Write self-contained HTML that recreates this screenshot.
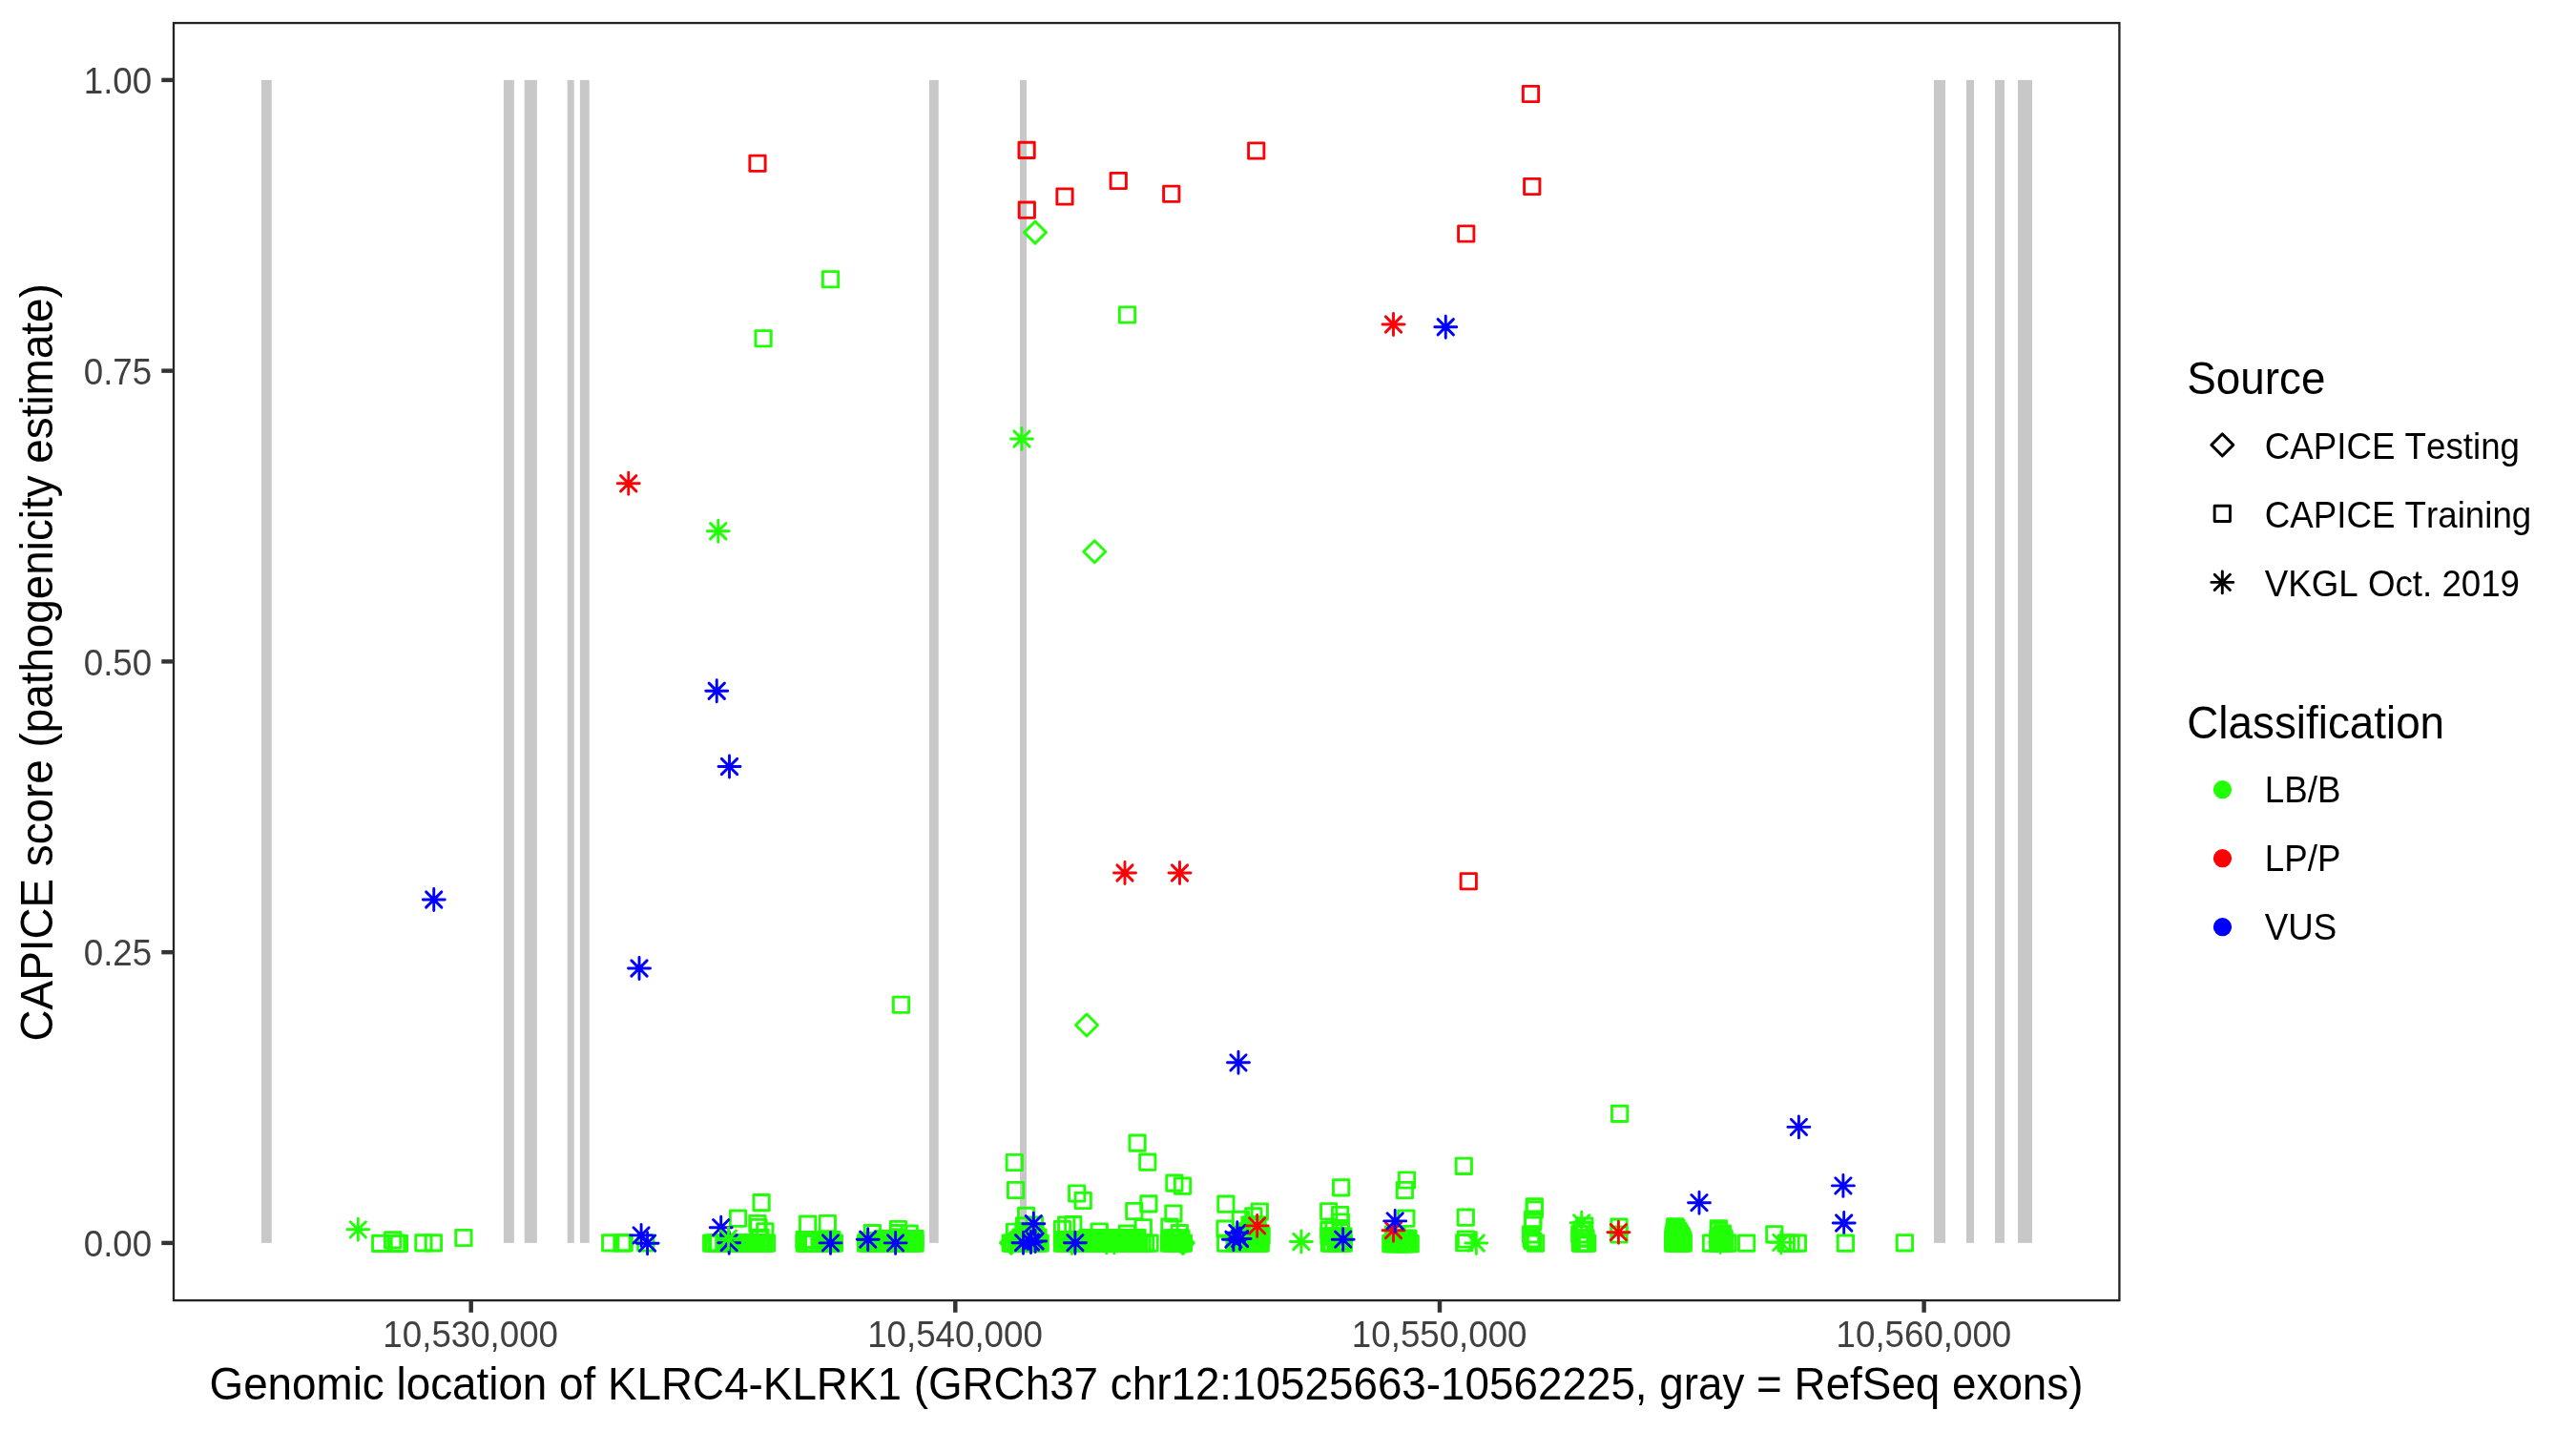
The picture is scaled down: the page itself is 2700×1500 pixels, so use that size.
<!DOCTYPE html>
<html><head><meta charset="utf-8"><title>CAPICE KLRC4-KLRK1</title>
<style>
html,body{margin:0;padding:0;background:#fff;}
body{width:2700px;height:1500px;overflow:hidden;}
svg{display:block;will-change:transform;}
text{font-family:"Liberation Sans",sans-serif;font-kerning:none;}
.tk{font-size:38.3px;fill:#404040;}
.lt{font-size:38.3px;fill:#000;}
.ti{font-size:47.8px;fill:#000;}
.p{fill:none;stroke-width:2.9;stroke-linecap:round;stroke-linejoin:round;}
</style></head><body>
<svg width="2700" height="1500" viewBox="0 0 2700 1500">
<rect x="0" y="0" width="2700" height="1500" fill="#fff"/>
<g fill="#C8C8C8">
<rect x="274" y="83.9" width="10.75" height="1219"/>
<rect x="527.9" y="83.9" width="11" height="1219"/>
<rect x="549.7" y="83.9" width="13.2" height="1219"/>
<rect x="594.7" y="83.9" width="7" height="1219"/>
<rect x="607.9" y="83.9" width="9.8" height="1219"/>
<rect x="974" y="83.9" width="9.75" height="1219"/>
<rect x="1069" y="83.9" width="7" height="1219"/>
<rect x="2027" y="83.9" width="12" height="1219"/>
<rect x="2061" y="83.9" width="8" height="1219"/>
<rect x="2091" y="83.9" width="10" height="1219"/>
<rect x="2115" y="83.9" width="15" height="1219"/>
</g>
<g class="p" stroke="#FB0207">
<rect x="785.85" y="163.1" width="16.3" height="16.3"/>
</g>
<g class="p" stroke="#21FF06">
<rect x="791.95" y="346.6" width="16.3" height="16.3"/>
</g>
<g class="p" stroke="#FB0207">
<rect x="1067.95" y="149.25" width="16.3" height="16.3"/>
<rect x="1308.6" y="149.85" width="16.3" height="16.3"/>
<rect x="1164.1" y="181.35" width="16.3" height="16.3"/>
<rect x="1107.85" y="197.85" width="16.3" height="16.3"/>
<rect x="1219.6" y="195.1" width="16.3" height="16.3"/>
<rect x="1068.15" y="212.05" width="16.3" height="16.3"/>
</g>
<g class="p" stroke="#21FF06">
<path d="M1073.5 243.6L1085 232.1L1096.5 243.6L1085 255.1Z"/>
<rect x="862.35" y="284.6" width="16.3" height="16.3"/>
<rect x="1173.35" y="321.85" width="16.3" height="16.3"/>
</g>
<g class="p" stroke="#FB0207">
<path d="M1449 340H1472M1460.5 328.5V351.5M1452.37 331.87L1468.63 348.13M1452.37 348.13L1468.63 331.87"/>
<rect x="1596.35" y="90.35" width="16.3" height="16.3"/>
<rect x="1597.6" y="187.35" width="16.3" height="16.3"/>
<rect x="1528.6" y="236.85" width="16.3" height="16.3"/>
</g>
<g class="p" stroke="#0000FF">
<path d="M1503.75 342.75H1526.75M1515.25 331.25V354.25M1507.12 334.62L1523.38 350.88M1507.12 350.88L1523.38 334.62"/>
</g>
<g class="p" stroke="#FB0207">
<path d="M647.25 506.75H670.25M658.75 495.25V518.25M650.62 498.62L666.88 514.88M650.62 514.88L666.88 498.62"/>
</g>
<g class="p" stroke="#21FF06">
<path d="M741.25 556.75H764.25M752.75 545.25V568.25M744.62 548.62L760.88 564.88M744.62 564.88L760.88 548.62"/>
</g>
<g class="p" stroke="#0000FF">
<path d="M739.75 724.25H762.75M751.25 712.75V735.75M743.12 716.12L759.38 732.38M743.12 732.38L759.38 716.12"/>
</g>
<g class="p" stroke="#21FF06">
<path d="M1059.5 460H1082.5M1071 448.5V471.5M1062.87 451.87L1079.13 468.13M1062.87 468.13L1079.13 451.87"/>
<path d="M1135.75 578.25L1147.25 566.75L1158.75 578.25L1147.25 589.75Z"/>
</g>
<g class="p" stroke="#0000FF">
<path d="M753 803.5H776M764.5 792V815M756.37 795.37L772.63 811.63M756.37 811.63L772.63 795.37"/>
<path d="M443.25 943H466.25M454.75 931.5V954.5M446.62 934.87L462.88 951.13M446.62 951.13L462.88 934.87"/>
<path d="M658.5 1015H681.5M670 1003.5V1026.5M661.87 1006.87L678.13 1023.13M661.87 1023.13L678.13 1006.87"/>
</g>
<g class="p" stroke="#FB0207">
<path d="M1167.5 915H1190.5M1179 903.5V926.5M1170.87 906.87L1187.13 923.13M1170.87 923.13L1187.13 906.87"/>
<path d="M1225 915H1248M1236.5 903.5V926.5M1228.37 906.87L1244.63 923.13M1228.37 923.13L1244.63 906.87"/>
</g>
<g class="p" stroke="#21FF06">
<rect x="936.35" y="1045.1" width="16.3" height="16.3"/>
<path d="M1127.5 1074.5L1139 1063L1150.5 1074.5L1139 1086Z"/>
</g>
<g class="p" stroke="#FB0207">
<rect x="1531.1" y="915.6" width="16.3" height="16.3"/>
</g>
<g class="p" stroke="#0000FF">
<path d="M1286.5 1113.8H1309.5M1298 1102.3V1125.3M1289.87 1105.67L1306.13 1121.93M1289.87 1121.93L1306.13 1105.67"/>
</g>
<g class="p" stroke="#21FF06">
<rect x="1689.45" y="1159.25" width="16.3" height="16.3"/>
</g>
<g class="p" stroke="#0000FF">
<path d="M1873.9 1181.4H1896.9M1885.4 1169.9V1192.9M1877.27 1173.27L1893.53 1189.53M1877.27 1189.53L1893.53 1173.27"/>
<path d="M1920.4 1242.9H1943.4M1931.9 1231.4V1254.4M1923.77 1234.77L1940.03 1251.03M1923.77 1251.03L1940.03 1234.77"/>
<path d="M1769.5 1260.7H1792.5M1781 1249.2V1272.2M1772.87 1252.57L1789.13 1268.83M1772.87 1268.83L1789.13 1252.57"/>
<path d="M1921.2 1282H1944.2M1932.7 1270.5V1293.5M1924.57 1273.87L1940.83 1290.13M1924.57 1290.13L1940.83 1273.87"/>
</g>
<g class="p" stroke="#21FF06">
<path d="M363.8 1288.8H386.8M375.3 1277.3V1300.3M367.17 1280.67L383.43 1296.93M367.17 1296.93L383.43 1280.67"/>
<rect x="390.55" y="1295.25" width="16.3" height="16.3"/>
<rect x="403.5" y="1291.65" width="16.3" height="16.3"/>
<rect x="407.45" y="1295.25" width="16.3" height="16.3"/>
<rect x="410.25" y="1295.25" width="16.3" height="16.3"/>
<rect x="435.75" y="1294.75" width="16.3" height="16.3"/>
<rect x="446.25" y="1294.75" width="16.3" height="16.3"/>
<rect x="477.75" y="1289.35" width="16.3" height="16.3"/>
<rect x="631.55" y="1294.75" width="16.3" height="16.3"/>
<rect x="643.85" y="1294.75" width="16.3" height="16.3"/>
<rect x="646.05" y="1294.75" width="16.3" height="16.3"/>
<rect x="668.65" y="1294.75" width="16.3" height="16.3"/>
<rect x="737.55" y="1294.95" width="16.3" height="16.3"/>
<rect x="740.35" y="1294.95" width="16.3" height="16.3"/>
<rect x="743.15" y="1294.95" width="16.3" height="16.3"/>
<rect x="744.85" y="1294.95" width="16.3" height="16.3"/>
<rect x="750.65" y="1294.95" width="16.3" height="16.3"/>
<rect x="753.28" y="1294.95" width="16.3" height="16.3"/>
<rect x="755.91" y="1294.95" width="16.3" height="16.3"/>
<rect x="758.54" y="1294.95" width="16.3" height="16.3"/>
<rect x="761.17" y="1294.95" width="16.3" height="16.3"/>
<rect x="763.8" y="1294.95" width="16.3" height="16.3"/>
<rect x="766.43" y="1294.95" width="16.3" height="16.3"/>
<rect x="769.06" y="1294.95" width="16.3" height="16.3"/>
<rect x="771.69" y="1294.95" width="16.3" height="16.3"/>
<rect x="774.31" y="1294.95" width="16.3" height="16.3"/>
<rect x="776.94" y="1294.95" width="16.3" height="16.3"/>
<rect x="779.57" y="1294.95" width="16.3" height="16.3"/>
<rect x="782.2" y="1294.95" width="16.3" height="16.3"/>
<rect x="784.83" y="1294.95" width="16.3" height="16.3"/>
<rect x="787.46" y="1294.95" width="16.3" height="16.3"/>
<rect x="790.09" y="1294.95" width="16.3" height="16.3"/>
<rect x="792.72" y="1294.95" width="16.3" height="16.3"/>
<rect x="795.35" y="1294.95" width="16.3" height="16.3"/>
<rect x="765.35" y="1269.05" width="16.3" height="16.3"/>
<rect x="789.95" y="1252.45" width="16.3" height="16.3"/>
<rect x="785.75" y="1274.35" width="16.3" height="16.3"/>
<rect x="793.65" y="1282.75" width="16.3" height="16.3"/>
<rect x="788.85" y="1289.15" width="16.3" height="16.3"/>
<rect x="786.85" y="1278.35" width="16.3" height="16.3"/>
<rect x="834.95" y="1294.95" width="16.3" height="16.3"/>
<rect x="837.35" y="1294.95" width="16.3" height="16.3"/>
<rect x="839.75" y="1294.95" width="16.3" height="16.3"/>
<rect x="842.15" y="1294.95" width="16.3" height="16.3"/>
<rect x="844.55" y="1294.95" width="16.3" height="16.3"/>
<rect x="834.95" y="1291.35" width="16.3" height="16.3"/>
<rect x="837.35" y="1291.35" width="16.3" height="16.3"/>
<rect x="839.75" y="1291.35" width="16.3" height="16.3"/>
<rect x="842.15" y="1291.35" width="16.3" height="16.3"/>
<rect x="844.55" y="1291.35" width="16.3" height="16.3"/>
<rect x="851.25" y="1294.95" width="16.3" height="16.3"/>
<rect x="853.75" y="1294.95" width="16.3" height="16.3"/>
<rect x="856.25" y="1294.95" width="16.3" height="16.3"/>
<rect x="858.75" y="1294.95" width="16.3" height="16.3"/>
<rect x="861.25" y="1294.95" width="16.3" height="16.3"/>
<rect x="863.75" y="1294.95" width="16.3" height="16.3"/>
<rect x="866.25" y="1294.95" width="16.3" height="16.3"/>
<rect x="851.25" y="1291.35" width="16.3" height="16.3"/>
<rect x="853.77" y="1291.35" width="16.3" height="16.3"/>
<rect x="856.29" y="1291.35" width="16.3" height="16.3"/>
<rect x="858.81" y="1291.35" width="16.3" height="16.3"/>
<rect x="861.33" y="1291.35" width="16.3" height="16.3"/>
<rect x="863.85" y="1291.35" width="16.3" height="16.3"/>
<rect x="838.45" y="1275.05" width="16.3" height="16.3"/>
<rect x="859.15" y="1274.35" width="16.3" height="16.3"/>
<rect x="899.25" y="1294.95" width="16.3" height="16.3"/>
<rect x="901.97" y="1294.95" width="16.3" height="16.3"/>
<rect x="904.69" y="1294.95" width="16.3" height="16.3"/>
<rect x="907.41" y="1294.95" width="16.3" height="16.3"/>
<rect x="910.13" y="1294.95" width="16.3" height="16.3"/>
<rect x="912.86" y="1294.95" width="16.3" height="16.3"/>
<rect x="915.58" y="1294.95" width="16.3" height="16.3"/>
<rect x="918.3" y="1294.95" width="16.3" height="16.3"/>
<rect x="921.02" y="1294.95" width="16.3" height="16.3"/>
<rect x="923.74" y="1294.95" width="16.3" height="16.3"/>
<rect x="926.46" y="1294.95" width="16.3" height="16.3"/>
<rect x="929.18" y="1294.95" width="16.3" height="16.3"/>
<rect x="931.9" y="1294.95" width="16.3" height="16.3"/>
<rect x="934.62" y="1294.95" width="16.3" height="16.3"/>
<rect x="937.34" y="1294.95" width="16.3" height="16.3"/>
<rect x="940.07" y="1294.95" width="16.3" height="16.3"/>
<rect x="942.79" y="1294.95" width="16.3" height="16.3"/>
<rect x="945.51" y="1294.95" width="16.3" height="16.3"/>
<rect x="948.23" y="1294.95" width="16.3" height="16.3"/>
<rect x="950.95" y="1294.95" width="16.3" height="16.3"/>
<rect x="916.85" y="1290.55" width="16.3" height="16.3"/>
<rect x="919.47" y="1290.55" width="16.3" height="16.3"/>
<rect x="922.1" y="1290.55" width="16.3" height="16.3"/>
<rect x="924.72" y="1290.55" width="16.3" height="16.3"/>
<rect x="927.34" y="1290.55" width="16.3" height="16.3"/>
<rect x="929.97" y="1290.55" width="16.3" height="16.3"/>
<rect x="932.59" y="1290.55" width="16.3" height="16.3"/>
<rect x="935.21" y="1290.55" width="16.3" height="16.3"/>
<rect x="937.83" y="1290.55" width="16.3" height="16.3"/>
<rect x="940.46" y="1290.55" width="16.3" height="16.3"/>
<rect x="943.08" y="1290.55" width="16.3" height="16.3"/>
<rect x="945.7" y="1290.55" width="16.3" height="16.3"/>
<rect x="948.33" y="1290.55" width="16.3" height="16.3"/>
<rect x="950.95" y="1290.55" width="16.3" height="16.3"/>
<rect x="906.25" y="1284.55" width="16.3" height="16.3"/>
<rect x="933.35" y="1280.35" width="16.3" height="16.3"/>
<rect x="933.35" y="1284.55" width="16.3" height="16.3"/>
<rect x="933.35" y="1288.75" width="16.3" height="16.3"/>
<rect x="945.05" y="1284.95" width="16.3" height="16.3"/>
<rect x="900.85" y="1292.35" width="16.3" height="16.3"/>
<rect x="903.6" y="1292.35" width="16.3" height="16.3"/>
<rect x="906.35" y="1292.35" width="16.3" height="16.3"/>
<rect x="909.1" y="1292.35" width="16.3" height="16.3"/>
<rect x="911.85" y="1292.35" width="16.3" height="16.3"/>
<rect x="1055.15" y="1210.35" width="16.3" height="16.3"/>
<rect x="1056.45" y="1239.35" width="16.3" height="16.3"/>
<rect x="1067.45" y="1266.25" width="16.3" height="16.3"/>
<rect x="1065.35" y="1276.75" width="16.3" height="16.3"/>
<rect x="1076.25" y="1276.05" width="16.3" height="16.3"/>
<rect x="1055.35" y="1283.15" width="16.3" height="16.3"/>
<path d="M1048.4 1302.7L1059.9 1291.2L1071.4 1302.7L1059.9 1314.2Z"/>
<rect x="1051.05" y="1294.95" width="16.3" height="16.3"/>
<rect x="1053.87" y="1294.95" width="16.3" height="16.3"/>
<rect x="1056.69" y="1294.95" width="16.3" height="16.3"/>
<rect x="1059.5" y="1294.95" width="16.3" height="16.3"/>
<rect x="1062.32" y="1294.95" width="16.3" height="16.3"/>
<rect x="1065.14" y="1294.95" width="16.3" height="16.3"/>
<rect x="1067.96" y="1294.95" width="16.3" height="16.3"/>
<rect x="1070.78" y="1294.95" width="16.3" height="16.3"/>
<rect x="1073.6" y="1294.95" width="16.3" height="16.3"/>
<rect x="1076.41" y="1294.95" width="16.3" height="16.3"/>
<rect x="1079.23" y="1294.95" width="16.3" height="16.3"/>
<rect x="1082.05" y="1294.95" width="16.3" height="16.3"/>
<rect x="1061.85" y="1288.85" width="16.3" height="16.3"/>
<rect x="1064.42" y="1288.85" width="16.3" height="16.3"/>
<rect x="1066.99" y="1288.85" width="16.3" height="16.3"/>
<rect x="1069.56" y="1288.85" width="16.3" height="16.3"/>
<rect x="1072.14" y="1288.85" width="16.3" height="16.3"/>
<rect x="1074.71" y="1288.85" width="16.3" height="16.3"/>
<rect x="1077.28" y="1288.85" width="16.3" height="16.3"/>
<rect x="1079.85" y="1288.85" width="16.3" height="16.3"/>
<rect x="1064.85" y="1282.85" width="16.3" height="16.3"/>
<rect x="1067.85" y="1282.85" width="16.3" height="16.3"/>
<rect x="1070.85" y="1282.85" width="16.3" height="16.3"/>
<rect x="1073.85" y="1282.85" width="16.3" height="16.3"/>
<rect x="1076.85" y="1282.85" width="16.3" height="16.3"/>
<rect x="1105.35" y="1280.35" width="16.3" height="16.3"/>
<rect x="1109.55" y="1275.85" width="16.3" height="16.3"/>
<rect x="1116.65" y="1275.55" width="16.3" height="16.3"/>
<rect x="1120.55" y="1242.85" width="16.3" height="16.3"/>
<rect x="1127.05" y="1250.35" width="16.3" height="16.3"/>
<rect x="1144.15" y="1282.85" width="16.3" height="16.3"/>
<rect x="1180.65" y="1261.35" width="16.3" height="16.3"/>
<rect x="1195.75" y="1253.75" width="16.3" height="16.3"/>
<rect x="1190.15" y="1278.65" width="16.3" height="16.3"/>
<rect x="1173.15" y="1284.95" width="16.3" height="16.3"/>
<rect x="1183.95" y="1189.95" width="16.3" height="16.3"/>
<rect x="1194.65" y="1210.05" width="16.3" height="16.3"/>
<rect x="1105.35" y="1294.95" width="16.3" height="16.3"/>
<rect x="1108.06" y="1294.95" width="16.3" height="16.3"/>
<rect x="1110.76" y="1294.95" width="16.3" height="16.3"/>
<rect x="1113.47" y="1294.95" width="16.3" height="16.3"/>
<rect x="1116.18" y="1294.95" width="16.3" height="16.3"/>
<rect x="1118.88" y="1294.95" width="16.3" height="16.3"/>
<rect x="1121.59" y="1294.95" width="16.3" height="16.3"/>
<rect x="1124.3" y="1294.95" width="16.3" height="16.3"/>
<rect x="1127.01" y="1294.95" width="16.3" height="16.3"/>
<rect x="1129.71" y="1294.95" width="16.3" height="16.3"/>
<rect x="1132.42" y="1294.95" width="16.3" height="16.3"/>
<rect x="1135.13" y="1294.95" width="16.3" height="16.3"/>
<rect x="1137.83" y="1294.95" width="16.3" height="16.3"/>
<rect x="1140.54" y="1294.95" width="16.3" height="16.3"/>
<rect x="1143.25" y="1294.95" width="16.3" height="16.3"/>
<rect x="1145.95" y="1294.95" width="16.3" height="16.3"/>
<rect x="1148.66" y="1294.95" width="16.3" height="16.3"/>
<rect x="1151.37" y="1294.95" width="16.3" height="16.3"/>
<rect x="1154.07" y="1294.95" width="16.3" height="16.3"/>
<rect x="1156.78" y="1294.95" width="16.3" height="16.3"/>
<rect x="1159.49" y="1294.95" width="16.3" height="16.3"/>
<rect x="1162.19" y="1294.95" width="16.3" height="16.3"/>
<rect x="1164.9" y="1294.95" width="16.3" height="16.3"/>
<rect x="1167.61" y="1294.95" width="16.3" height="16.3"/>
<rect x="1170.32" y="1294.95" width="16.3" height="16.3"/>
<rect x="1173.02" y="1294.95" width="16.3" height="16.3"/>
<rect x="1175.73" y="1294.95" width="16.3" height="16.3"/>
<rect x="1178.44" y="1294.95" width="16.3" height="16.3"/>
<rect x="1181.14" y="1294.95" width="16.3" height="16.3"/>
<rect x="1183.85" y="1294.95" width="16.3" height="16.3"/>
<rect x="1131.85" y="1289.35" width="16.3" height="16.3"/>
<rect x="1134.59" y="1289.35" width="16.3" height="16.3"/>
<rect x="1137.32" y="1289.35" width="16.3" height="16.3"/>
<rect x="1140.06" y="1289.35" width="16.3" height="16.3"/>
<rect x="1142.8" y="1289.35" width="16.3" height="16.3"/>
<rect x="1145.53" y="1289.35" width="16.3" height="16.3"/>
<rect x="1148.27" y="1289.35" width="16.3" height="16.3"/>
<rect x="1151.01" y="1289.35" width="16.3" height="16.3"/>
<rect x="1153.74" y="1289.35" width="16.3" height="16.3"/>
<rect x="1156.48" y="1289.35" width="16.3" height="16.3"/>
<rect x="1159.22" y="1289.35" width="16.3" height="16.3"/>
<rect x="1161.96" y="1289.35" width="16.3" height="16.3"/>
<rect x="1164.69" y="1289.35" width="16.3" height="16.3"/>
<rect x="1167.43" y="1289.35" width="16.3" height="16.3"/>
<rect x="1170.17" y="1289.35" width="16.3" height="16.3"/>
<rect x="1172.9" y="1289.35" width="16.3" height="16.3"/>
<rect x="1175.64" y="1289.35" width="16.3" height="16.3"/>
<rect x="1178.38" y="1289.35" width="16.3" height="16.3"/>
<rect x="1181.11" y="1289.35" width="16.3" height="16.3"/>
<rect x="1183.85" y="1289.35" width="16.3" height="16.3"/>
<rect x="1106.85" y="1291.35" width="16.3" height="16.3"/>
<rect x="1109.63" y="1291.35" width="16.3" height="16.3"/>
<rect x="1112.41" y="1291.35" width="16.3" height="16.3"/>
<rect x="1115.18" y="1291.35" width="16.3" height="16.3"/>
<rect x="1117.96" y="1291.35" width="16.3" height="16.3"/>
<rect x="1120.74" y="1291.35" width="16.3" height="16.3"/>
<rect x="1123.52" y="1291.35" width="16.3" height="16.3"/>
<rect x="1126.29" y="1291.35" width="16.3" height="16.3"/>
<rect x="1129.07" y="1291.35" width="16.3" height="16.3"/>
<rect x="1131.85" y="1291.35" width="16.3" height="16.3"/>
<rect x="1185.85" y="1294.95" width="16.3" height="16.3"/>
<rect x="1188.85" y="1294.95" width="16.3" height="16.3"/>
<rect x="1192.35" y="1294.95" width="16.3" height="16.3"/>
<rect x="1196.95" y="1294.95" width="16.3" height="16.3"/>
<rect x="1141.85" y="1292.15" width="16.3" height="16.3"/>
<rect x="1144.56" y="1292.15" width="16.3" height="16.3"/>
<rect x="1147.28" y="1292.15" width="16.3" height="16.3"/>
<rect x="1149.99" y="1292.15" width="16.3" height="16.3"/>
<rect x="1152.71" y="1292.15" width="16.3" height="16.3"/>
<rect x="1155.42" y="1292.15" width="16.3" height="16.3"/>
<rect x="1158.14" y="1292.15" width="16.3" height="16.3"/>
<rect x="1160.85" y="1292.15" width="16.3" height="16.3"/>
<rect x="1163.56" y="1292.15" width="16.3" height="16.3"/>
<rect x="1166.28" y="1292.15" width="16.3" height="16.3"/>
<rect x="1168.99" y="1292.15" width="16.3" height="16.3"/>
<rect x="1171.71" y="1292.15" width="16.3" height="16.3"/>
<rect x="1174.42" y="1292.15" width="16.3" height="16.3"/>
<rect x="1177.14" y="1292.15" width="16.3" height="16.3"/>
<rect x="1179.85" y="1292.15" width="16.3" height="16.3"/>
<path d="M1112 1303H1135M1123.5 1291.5V1314.5M1115.37 1294.87L1131.63 1311.13M1115.37 1311.13L1131.63 1294.87"/>
<path d="M1148.3 1302.4H1171.3M1159.8 1290.9V1313.9M1151.67 1294.27L1167.93 1310.53M1151.67 1310.53L1167.93 1294.27"/>
<path d="M1156.4 1302.4H1179.4M1167.9 1290.9V1313.9M1159.77 1294.27L1176.03 1310.53M1159.77 1310.53L1176.03 1294.27"/>
<rect x="1222.75" y="1231.95" width="16.3" height="16.3"/>
<rect x="1231.35" y="1235.05" width="16.3" height="16.3"/>
<rect x="1221.75" y="1263.85" width="16.3" height="16.3"/>
<rect x="1217.75" y="1277.95" width="16.3" height="16.3"/>
<rect x="1228.15" y="1284.55" width="16.3" height="16.3"/>
<rect x="1217.45" y="1294.95" width="16.3" height="16.3"/>
<rect x="1219.92" y="1294.95" width="16.3" height="16.3"/>
<rect x="1222.38" y="1294.95" width="16.3" height="16.3"/>
<rect x="1224.85" y="1294.95" width="16.3" height="16.3"/>
<rect x="1227.32" y="1294.95" width="16.3" height="16.3"/>
<rect x="1229.78" y="1294.95" width="16.3" height="16.3"/>
<rect x="1232.25" y="1294.95" width="16.3" height="16.3"/>
<rect x="1217.85" y="1289.85" width="16.3" height="16.3"/>
<rect x="1220.25" y="1289.85" width="16.3" height="16.3"/>
<rect x="1222.65" y="1289.85" width="16.3" height="16.3"/>
<rect x="1225.05" y="1289.85" width="16.3" height="16.3"/>
<rect x="1227.45" y="1289.85" width="16.3" height="16.3"/>
<rect x="1229.85" y="1289.85" width="16.3" height="16.3"/>
<path d="M1228.3 1302.9L1239.8 1291.4L1251.3 1302.9L1239.8 1314.4Z"/>
<rect x="1276.75" y="1254.05" width="16.3" height="16.3"/>
<rect x="1312.15" y="1261.85" width="16.3" height="16.3"/>
<rect x="1305.65" y="1266.75" width="16.3" height="16.3"/>
<rect x="1292.25" y="1270.25" width="16.3" height="16.3"/>
<rect x="1275.85" y="1280.05" width="16.3" height="16.3"/>
<rect x="1313.95" y="1287.05" width="16.3" height="16.3"/>
<rect x="1276.55" y="1294.95" width="16.3" height="16.3"/>
<rect x="1285.95" y="1294.95" width="16.3" height="16.3"/>
<rect x="1288.66" y="1294.95" width="16.3" height="16.3"/>
<rect x="1291.37" y="1294.95" width="16.3" height="16.3"/>
<rect x="1294.08" y="1294.95" width="16.3" height="16.3"/>
<rect x="1296.79" y="1294.95" width="16.3" height="16.3"/>
<rect x="1299.5" y="1294.95" width="16.3" height="16.3"/>
<rect x="1302.21" y="1294.95" width="16.3" height="16.3"/>
<rect x="1304.92" y="1294.95" width="16.3" height="16.3"/>
<rect x="1307.63" y="1294.95" width="16.3" height="16.3"/>
<rect x="1310.34" y="1294.95" width="16.3" height="16.3"/>
<rect x="1313.05" y="1294.95" width="16.3" height="16.3"/>
<rect x="1290.85" y="1289.85" width="16.3" height="16.3"/>
<rect x="1293.6" y="1289.85" width="16.3" height="16.3"/>
<rect x="1296.35" y="1289.85" width="16.3" height="16.3"/>
<rect x="1299.1" y="1289.85" width="16.3" height="16.3"/>
<rect x="1301.85" y="1289.85" width="16.3" height="16.3"/>
<rect x="1304.6" y="1289.85" width="16.3" height="16.3"/>
<rect x="1307.35" y="1289.85" width="16.3" height="16.3"/>
<rect x="1310.1" y="1289.85" width="16.3" height="16.3"/>
<rect x="1312.85" y="1289.85" width="16.3" height="16.3"/>
<rect x="1296.85" y="1282.85" width="16.3" height="16.3"/>
<rect x="1299.45" y="1282.85" width="16.3" height="16.3"/>
<rect x="1302.05" y="1282.85" width="16.3" height="16.3"/>
<rect x="1304.65" y="1282.85" width="16.3" height="16.3"/>
<rect x="1307.25" y="1282.85" width="16.3" height="16.3"/>
<rect x="1309.85" y="1282.85" width="16.3" height="16.3"/>
<rect x="1301.85" y="1275.85" width="16.3" height="16.3"/>
<rect x="1304.52" y="1275.85" width="16.3" height="16.3"/>
<rect x="1307.18" y="1275.85" width="16.3" height="16.3"/>
<rect x="1309.85" y="1275.85" width="16.3" height="16.3"/>
<rect x="1397.45" y="1236.75" width="16.3" height="16.3"/>
<rect x="1384.55" y="1261.65" width="16.3" height="16.3"/>
<rect x="1396.45" y="1265.35" width="16.3" height="16.3"/>
<rect x="1397.15" y="1272.85" width="16.3" height="16.3"/>
<rect x="1397.15" y="1279.35" width="16.3" height="16.3"/>
<rect x="1397.15" y="1283.55" width="16.3" height="16.3"/>
<rect x="1384.75" y="1281.45" width="16.3" height="16.3"/>
<rect x="1385.35" y="1294.95" width="16.3" height="16.3"/>
<rect x="1387.85" y="1294.95" width="16.3" height="16.3"/>
<rect x="1391.85" y="1293.85" width="16.3" height="16.3"/>
<rect x="1393.85" y="1294.95" width="16.3" height="16.3"/>
<rect x="1395.95" y="1294.95" width="16.3" height="16.3"/>
<rect x="1398.05" y="1294.95" width="16.3" height="16.3"/>
<rect x="1400.15" y="1294.95" width="16.3" height="16.3"/>
<rect x="1384.85" y="1287.85" width="16.3" height="16.3"/>
<rect x="1387.35" y="1287.85" width="16.3" height="16.3"/>
<rect x="1389.85" y="1287.85" width="16.3" height="16.3"/>
<rect x="1392.35" y="1287.85" width="16.3" height="16.3"/>
<rect x="1394.85" y="1287.85" width="16.3" height="16.3"/>
<rect x="1397.35" y="1287.85" width="16.3" height="16.3"/>
<rect x="1399.85" y="1287.85" width="16.3" height="16.3"/>
<rect x="1389.85" y="1280.85" width="16.3" height="16.3"/>
<rect x="1464.25" y="1239.35" width="16.3" height="16.3"/>
<rect x="1466.35" y="1228.85" width="16.3" height="16.3"/>
<rect x="1465.65" y="1269.05" width="16.3" height="16.3"/>
<rect x="1466.85" y="1289.85" width="16.3" height="16.3"/>
<rect x="1452.45" y="1285.65" width="16.3" height="16.3"/>
<rect x="1449.65" y="1295.45" width="16.3" height="16.3"/>
<rect x="1452.2" y="1295.45" width="16.3" height="16.3"/>
<rect x="1454.75" y="1295.45" width="16.3" height="16.3"/>
<rect x="1457.3" y="1295.45" width="16.3" height="16.3"/>
<rect x="1459.85" y="1295.45" width="16.3" height="16.3"/>
<rect x="1462.4" y="1295.45" width="16.3" height="16.3"/>
<rect x="1464.95" y="1295.45" width="16.3" height="16.3"/>
<rect x="1467.5" y="1295.45" width="16.3" height="16.3"/>
<rect x="1470.05" y="1295.45" width="16.3" height="16.3"/>
<rect x="1453.85" y="1290.35" width="16.3" height="16.3"/>
<rect x="1456.65" y="1290.35" width="16.3" height="16.3"/>
<rect x="1459.45" y="1290.35" width="16.3" height="16.3"/>
<rect x="1462.25" y="1290.35" width="16.3" height="16.3"/>
<rect x="1465.05" y="1290.35" width="16.3" height="16.3"/>
<rect x="1467.85" y="1290.35" width="16.3" height="16.3"/>
<rect x="1455.85" y="1285.65" width="16.3" height="16.3"/>
<rect x="1526.15" y="1214.15" width="16.3" height="16.3"/>
<rect x="1528.15" y="1268.05" width="16.3" height="16.3"/>
<rect x="1528.35" y="1290.85" width="16.3" height="16.3"/>
<rect x="1526.55" y="1294.55" width="16.3" height="16.3"/>
<rect x="1600.15" y="1256.65" width="16.3" height="16.3"/>
<rect x="1600.15" y="1259.75" width="16.3" height="16.3"/>
<rect x="1598.55" y="1269.95" width="16.3" height="16.3"/>
<rect x="1598.55" y="1272.35" width="16.3" height="16.3"/>
<rect x="1596.45" y="1285.65" width="16.3" height="16.3"/>
<rect x="1597.05" y="1290.55" width="16.3" height="16.3"/>
<rect x="1601.35" y="1294.95" width="16.3" height="16.3"/>
<rect x="1598.35" y="1292.85" width="16.3" height="16.3"/>
<rect x="1647.65" y="1285.65" width="16.3" height="16.3"/>
<rect x="1652.65" y="1276.95" width="16.3" height="16.3"/>
<rect x="1648.35" y="1294.95" width="16.3" height="16.3"/>
<rect x="1650.72" y="1294.95" width="16.3" height="16.3"/>
<rect x="1653.08" y="1294.95" width="16.3" height="16.3"/>
<rect x="1655.45" y="1294.95" width="16.3" height="16.3"/>
<rect x="1648.35" y="1289.85" width="16.3" height="16.3"/>
<rect x="1651.1" y="1289.85" width="16.3" height="16.3"/>
<rect x="1653.85" y="1289.85" width="16.3" height="16.3"/>
<rect x="1649.85" y="1280.85" width="16.3" height="16.3"/>
<rect x="1688.85" y="1277.95" width="16.3" height="16.3"/>
<rect x="1688.85" y="1285.85" width="16.3" height="16.3"/>
<rect x="1747.65" y="1277.65" width="16.3" height="16.3"/>
<rect x="1748.15" y="1280.95" width="16.3" height="16.3"/>
<rect x="1752.25" y="1285.25" width="16.3" height="16.3"/>
<rect x="1745.55" y="1294.95" width="16.3" height="16.3"/>
<rect x="1748.17" y="1294.95" width="16.3" height="16.3"/>
<rect x="1750.8" y="1294.95" width="16.3" height="16.3"/>
<rect x="1753.42" y="1294.95" width="16.3" height="16.3"/>
<rect x="1756.05" y="1294.95" width="16.3" height="16.3"/>
<rect x="1745.85" y="1289.85" width="16.3" height="16.3"/>
<rect x="1748.85" y="1289.85" width="16.3" height="16.3"/>
<rect x="1751.85" y="1289.85" width="16.3" height="16.3"/>
<rect x="1754.85" y="1289.85" width="16.3" height="16.3"/>
<rect x="1746.85" y="1284.85" width="16.3" height="16.3"/>
<rect x="1749.35" y="1284.85" width="16.3" height="16.3"/>
<rect x="1751.85" y="1284.85" width="16.3" height="16.3"/>
<rect x="1745.85" y="1292.45" width="16.3" height="16.3"/>
<rect x="1748.35" y="1292.45" width="16.3" height="16.3"/>
<rect x="1750.85" y="1292.45" width="16.3" height="16.3"/>
<rect x="1753.35" y="1292.45" width="16.3" height="16.3"/>
<rect x="1755.85" y="1292.45" width="16.3" height="16.3"/>
<rect x="1745.85" y="1287.35" width="16.3" height="16.3"/>
<rect x="1748.52" y="1287.35" width="16.3" height="16.3"/>
<rect x="1751.18" y="1287.35" width="16.3" height="16.3"/>
<rect x="1753.85" y="1287.35" width="16.3" height="16.3"/>
<rect x="1746.85" y="1282.35" width="16.3" height="16.3"/>
<rect x="1748.85" y="1282.35" width="16.3" height="16.3"/>
<rect x="1750.85" y="1282.35" width="16.3" height="16.3"/>
<rect x="1747.35" y="1279.35" width="16.3" height="16.3"/>
<rect x="1748.85" y="1279.35" width="16.3" height="16.3"/>
</g>
<g class="p" stroke="#FB0207">
<rect x="1794.98" y="1294.95" width="16.3" height="16.3"/>
</g>
<g class="p" stroke="#21FF06">
<rect x="1793.25" y="1279.75" width="16.3" height="16.3"/>
<rect x="1797.25" y="1284.95" width="16.3" height="16.3"/>
<rect x="1793.25" y="1282.35" width="16.3" height="16.3"/>
<rect x="1795.35" y="1287.35" width="16.3" height="16.3"/>
<rect x="1792.85" y="1292.35" width="16.3" height="16.3"/>
<rect x="1794.85" y="1292.35" width="16.3" height="16.3"/>
<rect x="1796.85" y="1292.35" width="16.3" height="16.3"/>
<rect x="1798.85" y="1292.35" width="16.3" height="16.3"/>
<rect x="1785.35" y="1294.95" width="16.3" height="16.3"/>
<rect x="1792.75" y="1294.95" width="16.3" height="16.3"/>
<rect x="1794.98" y="1294.95" width="16.3" height="16.3"/>
<rect x="1797.22" y="1294.95" width="16.3" height="16.3"/>
<rect x="1799.45" y="1294.95" width="16.3" height="16.3"/>
<rect x="1792.85" y="1289.85" width="16.3" height="16.3"/>
<rect x="1794.85" y="1289.85" width="16.3" height="16.3"/>
<rect x="1796.85" y="1289.85" width="16.3" height="16.3"/>
<rect x="1798.85" y="1289.85" width="16.3" height="16.3"/>
<rect x="1802.85" y="1294.95" width="16.3" height="16.3"/>
<rect x="1822.45" y="1294.95" width="16.3" height="16.3"/>
<rect x="1851.65" y="1285.65" width="16.3" height="16.3"/>
<rect x="1864.15" y="1294.95" width="16.3" height="16.3"/>
<rect x="1868.85" y="1294.95" width="16.3" height="16.3"/>
<rect x="1876.25" y="1294.95" width="16.3" height="16.3"/>
<rect x="1926.25" y="1294.95" width="16.3" height="16.3"/>
<rect x="1988.25" y="1294.65" width="16.3" height="16.3"/>
</g>
<g class="p" stroke="#0000FF">
<path d="M660.6 1294.9H683.6M672.1 1283.4V1306.4M663.97 1286.77L680.23 1303.03M663.97 1303.03L680.23 1286.77"/>
<path d="M667.1 1303.2H690.1M678.6 1291.7V1314.7M670.47 1295.07L686.73 1311.33M670.47 1311.33L686.73 1295.07"/>
<path d="M744.2 1286.7H767.2M755.7 1275.2V1298.2M747.57 1278.57L763.83 1294.83M747.57 1294.83L763.83 1278.57"/>
<path d="M752.7 1302.7H775.7M764.2 1291.2V1314.2M756.07 1294.57L772.33 1310.83M756.07 1310.83L772.33 1294.57"/>
</g>
<g class="p" stroke="#21FF06">
<path d="M752 1298.2H775M763.5 1286.7V1309.7M755.37 1290.07L771.63 1306.33M755.37 1306.33L771.63 1290.07"/>
</g>
<g class="p" stroke="#0000FF">
<path d="M859 1302.9H882M870.5 1291.4V1314.4M862.37 1294.77L878.63 1311.03M862.37 1311.03L878.63 1294.77"/>
<path d="M898.2 1299.2H921.2M909.7 1287.7V1310.7M901.57 1291.07L917.83 1307.33M901.57 1307.33L917.83 1291.07"/>
<path d="M927.1 1302.9H950.1M938.6 1291.4V1314.4M930.47 1294.77L946.73 1311.03M930.47 1311.03L946.73 1294.77"/>
<path d="M1071.8 1282.7H1094.8M1083.3 1271.2V1294.2M1075.17 1274.57L1091.43 1290.83M1075.17 1290.83L1091.43 1274.57"/>
<path d="M1061 1302.7H1084M1072.5 1291.2V1314.2M1064.37 1294.57L1080.63 1310.83M1064.37 1310.83L1080.63 1294.57"/>
<path d="M1069 1302H1092M1080.5 1290.5V1313.5M1072.37 1293.87L1088.63 1310.13M1072.37 1310.13L1088.63 1293.87"/>
<path d="M1073.6 1301H1096.6M1085.1 1289.5V1312.5M1076.97 1292.87L1093.23 1309.13M1076.97 1309.13L1093.23 1292.87"/>
<path d="M1115.4 1302.7H1138.4M1126.9 1291.2V1314.2M1118.77 1294.57L1135.03 1310.83M1118.77 1310.83L1135.03 1294.57"/>
<path d="M1285.3 1292.3H1308.3M1296.8 1280.8V1303.8M1288.67 1284.17L1304.93 1300.43M1288.67 1300.43L1304.93 1284.17"/>
<path d="M1281.4 1299.2H1304.4M1292.9 1287.7V1310.7M1284.77 1291.07L1301.03 1307.33M1284.77 1307.33L1301.03 1291.07"/>
<path d="M1288.1 1298.5H1311.1M1299.6 1287V1310M1291.47 1290.37L1307.73 1306.63M1291.47 1306.63L1307.73 1290.37"/>
</g>
<g class="p" stroke="#FB0207">
<path d="M1306.2 1284.9H1329.2M1317.7 1273.4V1296.4M1309.57 1276.77L1325.83 1293.03M1309.57 1293.03L1325.83 1276.77"/>
</g>
<g class="p" stroke="#21FF06">
<path d="M1352.4 1301.5H1375.4M1363.9 1290V1313M1355.77 1293.37L1372.03 1309.63M1355.77 1309.63L1372.03 1293.37"/>
</g>
<g class="p" stroke="#0000FF">
<path d="M1396.2 1299.2H1419.2M1407.7 1287.7V1310.7M1399.57 1291.07L1415.83 1307.33M1399.57 1307.33L1415.83 1291.07"/>
</g>
<g class="p" stroke="#FB0207">
<path d="M1449 1289.7H1472M1460.5 1278.2V1301.2M1452.37 1281.57L1468.63 1297.83M1452.37 1297.83L1468.63 1281.57"/>
</g>
<g class="p" stroke="#0000FF">
<path d="M1450.7 1279.9H1473.7M1462.2 1268.4V1291.4M1454.07 1271.77L1470.33 1288.03M1454.07 1288.03L1470.33 1271.77"/>
</g>
<g class="p" stroke="#21FF06">
<path d="M1535.8 1303H1558.8M1547.3 1291.5V1314.5M1539.17 1294.87L1555.43 1311.13M1539.17 1311.13L1555.43 1294.87"/>
<path d="M1646.2 1281.8H1669.2M1657.7 1270.3V1293.3M1649.57 1273.67L1665.83 1289.93M1649.57 1289.93L1665.83 1273.67"/>
</g>
<g class="p" stroke="#FB0207">
<path d="M1684.9 1291.7H1707.9M1696.4 1280.2V1303.2M1688.27 1283.57L1704.53 1299.83M1688.27 1299.83L1704.53 1283.57"/>
</g>
<g class="p" stroke="#21FF06">
<path d="M1791.7 1302H1814.7M1803.2 1290.5V1313.5M1795.07 1293.87L1811.33 1310.13M1795.07 1310.13L1811.33 1293.87"/>
<path d="M1855.3 1302.4H1878.3M1866.8 1290.9V1313.9M1858.67 1294.27L1874.93 1310.53M1858.67 1310.53L1874.93 1294.27"/>
</g>
<rect x="182" y="24.1" width="2039.4" height="1339" fill="none" stroke="#222222" stroke-width="2.3"/>
<g stroke="#333333" stroke-width="4.45" fill="none">
<path d="M169.3 1302.9H182"/>
<path d="M169.3 998.15H182"/>
<path d="M169.3 693.4H182"/>
<path d="M169.3 388.65H182"/>
<path d="M169.3 83.9H182"/>
<path d="M493.7 1363.1V1375.8"/>
<path d="M1001.3 1363.1V1375.8"/>
<path d="M1509 1363.1V1375.8"/>
<path d="M2016.6 1363.1V1375.8"/>
</g>
<text class="tk" transform="translate(159.2 1317) scale(0.9585 1)" text-anchor="end">0.00</text>
<text class="tk" transform="translate(159.2 1012.25) scale(0.9585 1)" text-anchor="end">0.25</text>
<text class="tk" transform="translate(159.2 707.5) scale(0.9585 1)" text-anchor="end">0.50</text>
<text class="tk" transform="translate(159.2 402.75) scale(0.9585 1)" text-anchor="end">0.75</text>
<text class="tk" transform="translate(159.2 98) scale(0.9585 1)" text-anchor="end">1.00</text>
<text class="tk" transform="translate(493.2 1412.2) scale(0.9585 1)" text-anchor="middle">10,530,000</text>
<text class="tk" transform="translate(1001 1412.2) scale(0.9585 1)" text-anchor="middle">10,540,000</text>
<text class="tk" transform="translate(1508.7 1412.2) scale(0.9585 1)" text-anchor="middle">10,550,000</text>
<text class="tk" transform="translate(2016.4 1412.2) scale(0.9585 1)" text-anchor="middle">10,560,000</text>
<text class="ti" transform="translate(1201.5 1467) scale(0.9585 1)" text-anchor="middle">Genomic location of KLRC4-KLRK1 (GRCh37 chr12:10525663-10562225, gray = RefSeq exons)</text>
<text class="ti" transform="translate(54.9 694.4) rotate(-90) scale(0.9585 1)" text-anchor="middle">CAPICE score (pathogenicity estimate)</text>
<text class="ti" transform="translate(2292.3 413) scale(0.9585 1)">Source</text>
<g class="p" stroke="#000">
<path d="M2317.8 466.4L2329.3 454.9L2340.8 466.4L2329.3 477.9Z"/>
<rect x="2321.15" y="530.25" width="16.3" height="16.3"/>
<path d="M2317.8 610.4H2340.8M2329.3 598.9V621.9M2321.17 602.27L2337.43 618.53M2321.17 618.53L2337.43 602.27"/>
</g>
<text class="lt" transform="translate(2373.8 480.8) scale(0.9585 1)">CAPICE Testing</text>
<text class="lt" transform="translate(2373.8 552.8) scale(0.9585 1)">CAPICE Training</text>
<text class="lt" transform="translate(2373.8 624.8) scale(0.9585 1)">VKGL Oct. 2019</text>
<text class="ti" transform="translate(2292.3 774) scale(0.9585 1)">Classification</text>
<circle cx="2329.5" cy="827.7" r="9.65" fill="#21FF06"/>
<circle cx="2329.5" cy="899.7" r="9.65" fill="#FB0207"/>
<circle cx="2329.5" cy="971.7" r="9.65" fill="#0000FF"/>
<text class="lt" transform="translate(2373.8 841) scale(0.9585 1)">LB/B</text>
<text class="lt" transform="translate(2373.8 913) scale(0.9585 1)">LP/P</text>
<text class="lt" transform="translate(2373.8 985) scale(0.9585 1)">VUS</text>
</svg></body></html>
